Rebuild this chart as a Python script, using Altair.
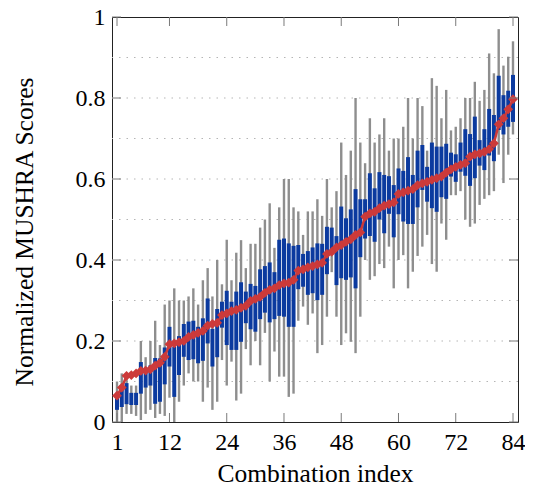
import altair as alt
import pandas as pd

# ---- data ----
index = list(range(1, 85))

whisker_low = [0.0, 0.0, 0.02, 0.02, 0.015, 0.005, 0.02, 0.03, 0.01, 0.02, 0.015, 0.06,
               0.0, 0.05, 0.09, 0.12, 0.10, 0.10, 0.05, 0.085, 0.03, 0.05, 0.153, 0.09,
               0.149, 0.053, 0.07, 0.18, 0.14, 0.2, 0.14, 0.22, 0.1, 0.174, 0.112, 0.112,
               0.062, 0.07, 0.25, 0.285, 0.24, 0.268, 0.17, 0.19, 0.26, 0.37, 0.26, 0.19,
               0.219, 0.198, 0.17, 0.26, 0.4, 0.351, 0.36, 0.39, 0.38, 0.433, 0.33, 0.4,
               0.412, 0.33, 0.371, 0.41, 0.433, 0.462, 0.39, 0.371, 0.49, 0.45, 0.56, 0.56,
               0.57, 0.5, 0.482, 0.49, 0.536, 0.551, 0.56, 0.57, 0.66, 0.59, 0.66, 0.71]

box_low = [0.03, 0.037, 0.044, 0.042, 0.042, 0.07, 0.085, 0.09, 0.045, 0.05, 0.093, 0.137,
           0.062, 0.116, 0.161, 0.153, 0.155, 0.145, 0.151, 0.194, 0.137, 0.16, 0.233, 0.19,
           0.178, 0.178, 0.198, 0.244, 0.229, 0.223, 0.254, 0.27, 0.246, 0.254, 0.262, 0.26,
           0.235, 0.235, 0.328, 0.334, 0.314, 0.318, 0.301, 0.314, 0.365, 0.425, 0.338, 0.355,
           0.351, 0.357, 0.33, 0.407, 0.453, 0.459, 0.445, 0.5, 0.466, 0.514, 0.456, 0.513,
           0.495, 0.489, 0.489, 0.53, 0.573, 0.544, 0.528, 0.519, 0.555, 0.551, 0.606, 0.593,
           0.618, 0.608, 0.583, 0.602, 0.633, 0.622, 0.658, 0.644, 0.721, 0.71, 0.729, 0.741]

box_high = [0.072, 0.091, 0.096, 0.072, 0.072, 0.148, 0.13, 0.14, 0.158, 0.157, 0.184, 0.235,
            0.186, 0.212, 0.242, 0.248, 0.25, 0.235, 0.256, 0.305, 0.23, 0.279, 0.297, 0.324,
            0.297, 0.322, 0.345, 0.322, 0.341, 0.336, 0.377, 0.385, 0.394, 0.37, 0.45, 0.453,
            0.441, 0.435, 0.437, 0.415, 0.422, 0.431, 0.441, 0.44, 0.482, 0.48, 0.459, 0.532,
            0.503, 0.525, 0.575, 0.55, 0.55, 0.614, 0.577, 0.617, 0.61, 0.607, 0.585, 0.626,
            0.62, 0.654, 0.61, 0.67, 0.684, 0.63, 0.69, 0.68, 0.68, 0.687, 0.665, 0.661,
            0.69, 0.723, 0.711, 0.754, 0.696, 0.723, 0.773, 0.758, 0.855, 0.807, 0.818, 0.857]

whisker_high = [0.10, 0.12, 0.11, 0.09, 0.09, 0.2, 0.16, 0.2, 0.25, 0.19, 0.29, 0.30,
                0.33, 0.30, 0.30, 0.31, 0.33, 0.29, 0.35, 0.38, 0.31, 0.40, 0.34, 0.45,
                0.35, 0.418, 0.449, 0.38, 0.44, 0.44, 0.48, 0.5, 0.54, 0.43, 0.53, 0.6,
                0.6, 0.53, 0.52, 0.462, 0.52, 0.52, 0.55, 0.509, 0.6, 0.53, 0.57, 0.69,
                0.61, 0.67, 0.8, 0.69, 0.639, 0.75, 0.69, 0.71, 0.75, 0.67, 0.7, 0.7,
                0.729, 0.8, 0.7, 0.8, 0.78, 0.67, 0.849, 0.83, 0.75, 0.82, 0.72, 0.729,
                0.75, 0.8, 0.8, 0.84, 0.793, 0.82, 0.91, 0.861, 0.97, 0.88, 0.902, 0.94]

mean_score = [0.065, 0.085, 0.114, 0.116, 0.12, 0.126, 0.127, 0.13, 0.139, 0.146, 0.161, 0.192,
              0.194, 0.197, 0.2, 0.21, 0.215, 0.22, 0.225, 0.238, 0.242, 0.245, 0.264, 0.268,
              0.274, 0.277, 0.282, 0.287, 0.299, 0.304, 0.309, 0.319, 0.326, 0.33, 0.338, 0.342,
              0.344, 0.351, 0.374, 0.377, 0.382, 0.385, 0.389, 0.393, 0.415, 0.42, 0.431, 0.437,
              0.445, 0.451, 0.462, 0.468, 0.507, 0.515, 0.519, 0.528, 0.534, 0.538, 0.542, 0.563,
              0.567, 0.571, 0.575, 0.585, 0.589, 0.593, 0.598, 0.602, 0.606, 0.616, 0.624, 0.63,
              0.635, 0.639, 0.655, 0.661, 0.663, 0.667, 0.674, 0.688, 0.735, 0.75, 0.772, 0.797]

x_ticks = [1, 12, 24, 36, 48, 60, 72, 84]
y_ticks = [0, 0.2, 0.4, 0.6, 0.8, 1]
y_grid = [0.1, 0.2, 0.3, 0.4, 0.5, 0.6, 0.7, 0.8, 0.9]

# ---- styling ----
FONT = "Liberation Serif"
BLUE = "#0b3a9f"
RED = "#cc3a3a"
WHISKER = "#8e8e8e"
TICK = "#7a7a7a"
W, H = 406, 405

df = pd.DataFrame({
    "index": index, "lo": whisker_low, "q1": box_low, "q3": box_high,
    "hi": whisker_high, "mean": mean_score,
})

xscale = alt.Scale(domain=[1, 84], nice=False, zero=False)
yscale = alt.Scale(domain=[0, 1], nice=False, zero=False)

xaxis = alt.Axis(values=x_ticks, title="Combination index", labelFont=FONT, labelFontSize=24,
                 labelColor="black", labelPadding=8, labelFlush=False, labelOverlap=False,
                 ticks=False, tickSize=0, domain=False, grid=False,
                 titleFont=FONT, titleFontSize=25.5, titleFontWeight="normal", titleColor="black",
                 titleX=W / 2, titleY=59, titleBaseline="alphabetic", titleAlign="center")
yaxis = alt.Axis(values=y_ticks, format="~g", title="Normalized MUSHRA Scores", labelFont=FONT,
                 labelFontSize=24, labelColor="black", labelPadding=7, labelFlush=False,
                 labelOverlap=False, ticks=False, tickSize=0, domain=False, grid=False,
                 titleFont=FONT, titleFontSize=25.5, titleFontWeight="normal", titleColor="black",
                 titleAngle=270, titleX=-80, titleY=H / 2 + 12, titleBaseline="alphabetic",
                 titleAlign="center")


def X(field):
    return alt.X(field, type="quantitative", scale=xscale, axis=xaxis)


def Y(field):
    return alt.Y(field, type="quantitative", scale=yscale, axis=yaxis)


base = alt.Chart(df)

grid = alt.Chart(pd.DataFrame({"g": y_grid})).mark_rule(
    color="#b5b5b5", strokeDash=[1.5, 6], strokeWidth=1
).encode(y=Y("g"))

whiskers = base.mark_rule(color=WHISKER, strokeWidth=2.4, clip=True).encode(
    x=X("index"), y=Y("lo"), y2="hi")

boxes = base.mark_bar(size=4.0, color=BLUE, clip=True).encode(
    x=X("index"), y=Y("q1"), y2="q3")

line = base.mark_line(color=RED, strokeWidth=2.5).encode(x=X("index"), y=Y("mean"))

points = base.mark_point(shape="diamond", filled=True, size=95, color=RED, opacity=1).encode(
    x=X("index"), y=Y("mean"))

xt = pd.DataFrame({"t": x_ticks})
yt = pd.DataFrame({"t": y_ticks})
tick_bottom = alt.Chart(xt).mark_rule(color=TICK, strokeWidth=1).encode(
    x=X("t"), y=alt.value(H), y2=alt.value(H - 9))
tick_top = alt.Chart(xt).mark_rule(color=TICK, strokeWidth=1).encode(
    x=X("t"), y=alt.value(0), y2=alt.value(9))
tick_left = alt.Chart(yt).mark_rule(color=TICK, strokeWidth=1).encode(
    y=Y("t"), x=alt.value(0), x2=alt.value(9))
tick_right = alt.Chart(yt).mark_rule(color=TICK, strokeWidth=1).encode(
    y=Y("t"), x=alt.value(W), x2=alt.value(W - 9))

chart = alt.layer(
    grid, whiskers, boxes, line, points, tick_bottom, tick_top, tick_left, tick_right
).properties(
    width=W, height=H,
    autosize=alt.AutoSizeParams(type="none"),
    padding={"left": 104, "top": 9, "right": 7, "bottom": 61},
    background="white",
).configure_view(stroke="#222222", strokeWidth=1)

chart.save("out.html", embed_options={"renderer": "svg", "actions": False})
